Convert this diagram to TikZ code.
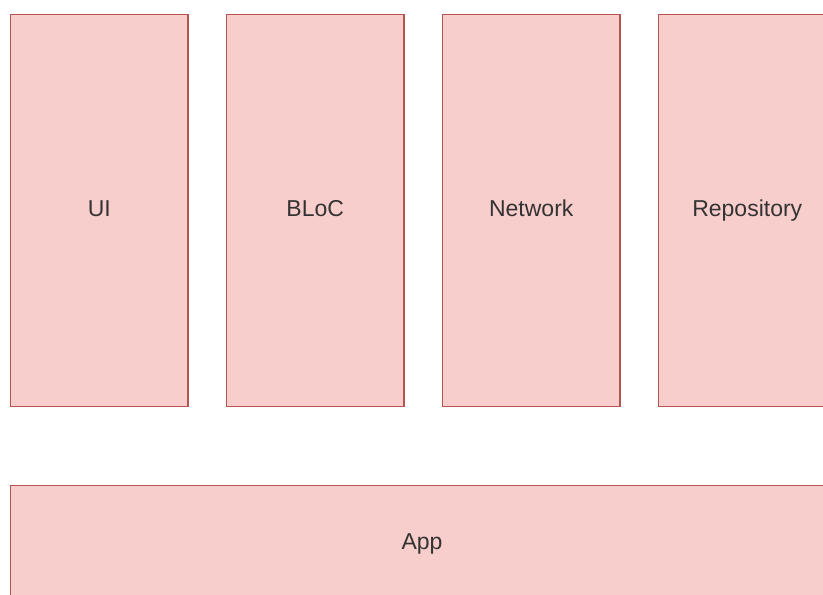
\documentclass[tikz,border=0pt]{standalone}
\usepackage{fontspec}
\setmainfont{Liberation Sans}
\definecolor{boxfill}{HTML}{F8CECC}
\definecolor{boxline}{HTML}{B85450}
\definecolor{txt}{HTML}{333333}
\begin{document}
\begin{tikzpicture}[x=1pt,y=-1pt,
  layer/.style={draw=boxline, fill=boxfill, line width=1.5pt, inner sep=0pt,
    text=txt, font=\fontsize{23}{28}\selectfont, text height=16.5pt, text depth=4pt},
  col/.style={layer, minimum width=177.5pt, minimum height=392pt}]
\useasboundingbox (0,0) rectangle (823,595);
\clip (0,0) rectangle (823,595);
\node[col] (ui) at (99.25,210.6) {UI};
\node[col] (bloc) at (315.25,210.6) {BLoC};
\node[col] (net) at (531.25,210.6) {Network};
\node[col] (repo) at (747.25,210.6) {Repository};
\node[layer, minimum width=823pt, minimum height=115.4pt] (app) at (422,543) {App};
\end{tikzpicture}
\end{document}
